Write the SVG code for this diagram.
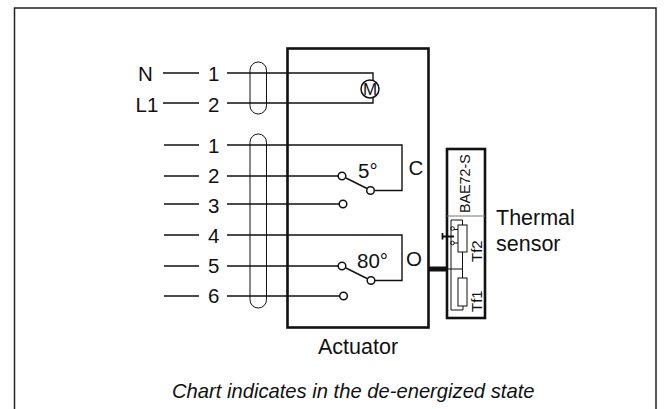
<svg xmlns="http://www.w3.org/2000/svg" width="664" height="409" viewBox="0 0 664 409">
<style>
text{font-family:"Liberation Sans",Arial,sans-serif;font-size:20.500px;fill:#111}
.w{fill:none;stroke:#111;stroke-width:1.4}
.h{fill:none;stroke:#111;stroke-width:1}
.b{fill:none;stroke:#111;stroke-width:2.6}
.c{fill:#fff;stroke:#111;stroke-width:1.500}
.s{font-size:15px}
.m{text-anchor:middle;font-size:17px}
.l{font-size:21.500px}
.i{font-style:italic;font-size:20.200px}
</style>
<rect width="664" height="409" fill="#fff"/>
<path id="frame" d="M14.500 409V8H656V409" fill="none" stroke="#222" stroke-width="1.500"/>
<g id="connectors">
<path class="w" d="M163 73H199M227 73H373V82M163 103H199M227 103H373V96M164 145H199M227 145H402V190.500H375M164 176H199M227 176H338M164 204H199M227 204H339M164 235H199M227 235H402V280.500H375M164 266H199M227 266H338M164 296H199M227 296H339M346 178L367 188.500M346 268L367 278.500"/>
<path d="M428 269H447" stroke="#111" stroke-width="5" fill="none"/>
</g>
<g id="cable1"><rect class="h" x="250" y="62" width="16.500" height="52" rx="8.250"/></g>
<g id="cable2"><rect class="h" x="250" y="134" width="16.500" height="174" rx="8.250"/></g>
<g id="actuator"><rect class="b" x="287.500" y="48.500" width="141" height="279"/><text class="l" x="318" y="354">Actuator</text><text x="408.500" y="175">C</text><text x="406" y="265.500">O</text></g>
<g id="motor"><circle class="c" cx="370" cy="89" r="9"/><text class="m" x="370" y="95">M</text></g>
<g id="switch5"><circle class="c" cx="342" cy="176" r="3.800"/><circle class="c" cx="370.500" cy="190.500" r="3.800"/><circle class="c" cx="343" cy="204" r="3.800"/><text x="358" y="178">5°</text></g>
<g id="switch80"><circle class="c" cx="342" cy="266" r="3.800"/><circle class="c" cx="371" cy="280.500" r="3.800"/><circle class="c" cx="343.500" cy="296" r="3.800"/><text x="357" y="268">80°</text></g>
<g id="labels">
<text x="138" y="81">N</text><text x="135.500" y="111.500">L1</text>
<text x="208" y="81">1</text><text x="208" y="111.500">2</text><text x="208" y="152.500">1</text><text x="208" y="183">2</text><text x="208" y="213">3</text><text x="208" y="243">4</text><text x="208" y="273">5</text><text x="208" y="303">6</text>
<text class="l" x="496" y="225">Thermal</text><text class="l" x="496" y="250.500">sensor</text>
<text class="i" x="172" y="398">Chart indicates in the de-energized state</text>
</g>
<g id="sensor"><rect class="b" x="447" y="149" width="38" height="169"/><path d="M447 216H485" stroke="#777" stroke-width="1" fill="none"/>
<text style="font-size:14.300px" transform="translate(470 213) rotate(-90)">BAE72-S</text><text class="s" transform="translate(481.500 262) rotate(-90)">Tf2</text><text class="s" transform="translate(481.500 312) rotate(-90)">Tf1</text>
<path class="h" d="M451 220V310H463V306M451 220H462.500V225M447 269H463"/>
<rect class="h" x="458" y="225" width="9" height="27"/><rect class="h" x="458" y="278" width="9" height="28"/>
<path class="h" d="M462.500 252V278"/>
<path class="h" d="M454 229.500H458M454 243H458"/>
<path d="M442.500 233V239.500M442.500 236.500H454" stroke="#111" stroke-width="1.800" fill="none"/><circle class="h" cx="452.500" cy="228.500" r="1.800"/><circle class="h" cx="452.500" cy="243" r="1.800"/></g>
</svg>
